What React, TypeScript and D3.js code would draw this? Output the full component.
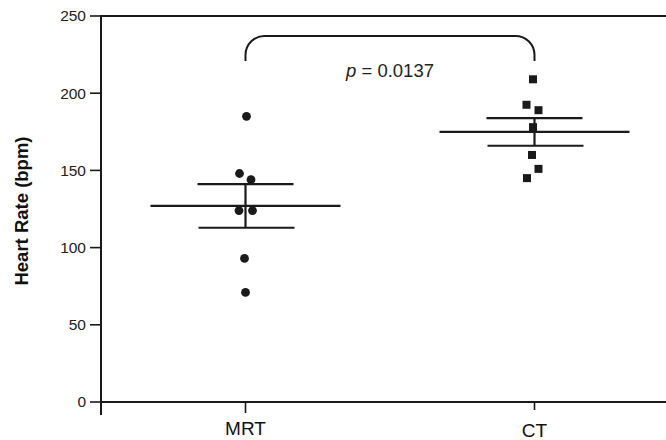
import React from "react";
import * as d3 from "d3";

const categories = ["MRT", "CT"];
const mrtValues = [185, 148, 144, 124, 124, 93, 71];
const ctValues = [209, 192.5, 189, 178, 160, 151, 145];
// horizontal dodge of each point (px) to avoid overlap, as in the original scatter
const mrtDodge = [1, -6, 5.5, -6.5, 7, -1, 0];
const ctDodge = [-1.5, -8, 4, -1.5, -2.5, 4, -7.5];
const yTicks = [0, 50, 100, 150, 200, 250];
const pLabel = "0.0137";

const W = 666;
const H = 440;
const INK = "#1a1a1a";
const FONT = "'Liberation Sans', Arial, Helvetica, sans-serif";

export default function App() {
  const left = 101;
  const top = 16;
  const bottom = 402;
  const rightEdge = 679;

  const y = d3.scaleLinear().domain([0, 250]).range([bottom, top]);
  const x = d3.scalePoint<string>().domain(categories).range([left, rightEdge]).padding(0.5);

  const groups = [
    { name: "MRT", values: mrtValues, dodge: mrtDodge, shape: "circle" },
    { name: "CT", values: ctValues, dodge: ctDodge, shape: "square" },
  ];

  const stats = groups.map((g) => {
    const m = d3.mean(g.values)!;
    const sd = d3.deviation(g.values)!;
    const sem = sd / Math.sqrt(g.values.length);
    return { ...g, mean: m, sem };
  });

  const xM = x("MRT")!;
  const xC = x("CT")!;
  const bracketY = 36;
  const bracketBottom = 61;
  const r = 19;
  const bracketPath = `M${xM},${bracketBottom} L${xM},${bracketY + r} A${r},${r} 0 0 1 ${xM + r},${bracketY} L${xC - r},${bracketY} A${r},${r} 0 0 1 ${xC},${bracketY + r} L${xC},${bracketBottom}`;

  return (
    <svg
      width={W}
      height={H}
      style={{ position: "absolute", left: 0, top: 0, background: "#fff" }}
      fontFamily={FONT}
    >
      <rect x={0} y={0} width={W} height={H} fill="#fff" />
      {/* frame */}
      <line x1={left} x2={W} y1={top} y2={top} stroke={INK} strokeWidth={2} />
      <line x1={left} x2={W} y1={bottom} y2={bottom} stroke={INK} strokeWidth={2} />
      <line x1={left} x2={left} y1={top - 1} y2={bottom + 13} stroke={INK} strokeWidth={2} />
      {/* y ticks */}
      {yTicks.map((t) => (
        <g key={t}>
          <line x1={left - 11} x2={left} y1={y(t)} y2={y(t)} stroke={INK} strokeWidth={1.6} />
          <text
            x={left - 15}
            y={y(t)}
            dy="0.35em"
            textAnchor="end"
            fontSize={15.5}
            fill="#222"
          >
            {t}
          </text>
        </g>
      ))}
      {/* x ticks */}
      {categories.map((c, i) => (
        <g key={c}>
          <line x1={x(c)!} x2={x(c)!} y1={bottom} y2={bottom + (i === 0 ? 11 : 8)} stroke={INK} strokeWidth={1.6} />
          <text x={x(c)!} y={i === 0 ? 434.5 : 436.5} textAnchor="middle" fontSize={19} fill="#111">
            {c}
          </text>
        </g>
      ))}
      {/* y label */}
      <text
        transform={`translate(28,${(top + bottom) / 2 + 2}) rotate(-90)`}
        textAnchor="middle"
        fontSize={18.5}
        fontWeight="bold"
        fill="#111"
      >
        Heart Rate (bpm)
      </text>
      {/* mean & SEM */}
      {stats.map((s) => {
        const cx = x(s.name)!;
        return (
          <g key={s.name} stroke={INK} strokeWidth={2.2}>
            <line x1={cx - 95} x2={cx + 95} y1={y(s.mean)} y2={y(s.mean)} />
            <line x1={cx - 48} x2={cx + 48} y1={y(s.mean + s.sem)} y2={y(s.mean + s.sem)} />
            <line x1={cx - 47} x2={cx + 49} y1={y(s.mean - s.sem)} y2={y(s.mean - s.sem)} />
            <line x1={cx} x2={cx} y1={y(s.mean + s.sem)} y2={y(s.mean - s.sem)} />
          </g>
        );
      })}
      {/* points */}
      {stats.map((s) =>
        s.values.map((v, i) => {
          const px = x(s.name)! + s.dodge[i];
          const py = y(v);
          return s.shape === "circle" ? (
            <circle key={s.name + i} cx={px} cy={py} r={4.4} fill={INK} />
          ) : (
            <rect key={s.name + i} x={px - 4} y={py - 4} width={8} height={8} fill={INK} />
          );
        })
      )}
      {/* significance bracket */}
      <path d={bracketPath} fill="none" stroke={INK} strokeWidth={2} />
      <text x={346} y={77} fontSize={18.5} fill="#222">
        <tspan fontStyle="italic">p</tspan>
        <tspan> = {pLabel}</tspan>
      </text>
    </svg>
  );
}
